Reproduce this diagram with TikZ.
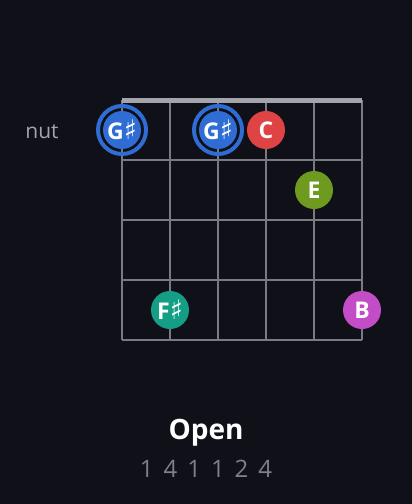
\documentclass[tikz,border=0pt]{standalone}
\usepackage{fontspec}
\setmainfont{Open Sans}
\newfontfamily\symfont{DejaVu Sans}
\definecolor{bgdark}{HTML}{0F1018}
\definecolor{gridgray}{HTML}{7A7A82}
\definecolor{nutgray}{HTML}{A4A4AC}
\definecolor{notegray}{HTML}{808088}
\definecolor{noteblue}{HTML}{2F6DD5}
\definecolor{notered}{HTML}{E04343}
\definecolor{notegreen}{HTML}{6E9A1F}
\definecolor{noteteal}{HTML}{159E86}
\definecolor{notepurple}{HTML}{C24DC6}
\newcommand{\shp}{{\symfont\fontsize{27}{27}\selectfont\char"266F}}
\newcommand{\widespace}{\spaceskip=10pt\relax}

\begin{document}
\begin{tikzpicture}[x=1pt,y=-1pt]
\tikzset{note/.style = {circle, minimum size=38pt, inner sep=0pt, text=white, font=\bfseries\fontsize{23}{23}\selectfont}}
\tikzset{rootring/.style = {circle, draw=noteblue, line width=4pt, minimum size=48pt, inner sep=0pt}}
\fill[bgdark] (0,0) rectangle (412,504);
\useasboundingbox (0,0) rectangle (412,504);

% strings and frets
\foreach \x in {122,170,218,266,314,362}
    \draw[gridgray, line width=1.2pt] (\x,100) -- (\x,340);
\foreach \y in {160,220,280,340}
    \draw[gridgray, line width=1.2pt] (122,\y) -- (362,\y);
\draw[nutgray, line width=4.5pt] (122,100.5) -- (362,100.5);

    \node (nutlabel) [text=nutgray, font=\fontsize{21}{21}\selectfont] at (42,132) {nut};

    \node[rootring] (ringA) at (122,130) {};
    \node[rootring] (ringB) at (218,130) {};
    \node[note, fill=noteblue] (gsA) at (122,130) {G\shp};
    \node[note, fill=noteblue] (gsB) at (218,130) {G\shp};
    \node[note, fill=notered] (cnote) at (266,130) {C};
    \node[note, fill=notegreen] (enote) at (314,190) {E};
    \node[note, fill=noteteal] (fsnote) at (170,310) {F\shp};
    \node[note, fill=notepurple] (bnote) at (362,310) {B};

    \node (title) [text=white, font=\bfseries\fontsize{28}{28}\selectfont] at (206,433) {Open};
    \node (fingers) [text=notegray, font=\fontsize{24}{24}\selectfont] at (206,469) {\widespace 1 4 1 1 2 4};
\end{tikzpicture}
\end{document}
